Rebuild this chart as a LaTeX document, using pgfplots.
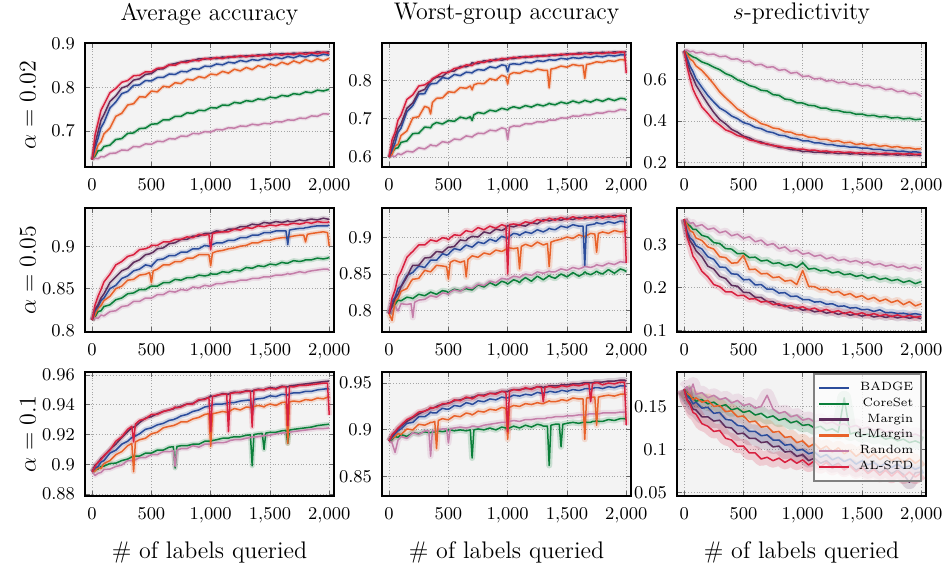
\documentclass[border=0pt]{standalone}
\usepackage{pgfplots}
\usepackage{pgfplotstable}
\pgfplotsset{compat=1.18}

\definecolor{bgc}{HTML}{F3F3F3}
\definecolor{cBadge}{HTML}{2B4C9B}
\definecolor{cCore}{HTML}{0B7F3A}
\definecolor{cMargin}{HTML}{5E2E5C}
\definecolor{cDM}{HTML}{E8622A}
\definecolor{cRand}{HTML}{C47EA9}
\definecolor{cAL}{HTML}{D8203F}

% columns: x badge coreset margin dmargin random alstd
\pgfplotstableread{
x badge coreset margin dmargin random alstd
0    .635 .635 .635 .635 .635 .635
25   .662 .643 .672 .648 .638 .692
50   .683 .655 .698 .668 .637 .720
75   .708 .656 .725 .676 .642 .748
100  .720 .665 .738 .694 .641 .761
150  .753 .668 .768 .707 .649 .788
200  .767 .681 .781 .734 .650 .798
250  .786 .683 .799 .741 .657 .812
300  .791 .695 .804 .760 .656 .816
350  .805 .696 .817 .763 .665 .827
400  .806 .706 .820 .779 .664 .828
450  .816 .707 .830 .778 .671 .836
500  .815 .716 .832 .792 .670 .836
550  .823 .717 .842 .790 .677 .844
600  .823 .726 .843 .803 .676 .845
650  .831 .726 .852 .801 .683 .852
700  .830 .734 .855 .811 .682 .851
750  .837 .734 .858 .809 .689 .858
800  .836 .742 .861 .819 .688 .857
850  .843 .741 .861 .817 .695 .863
900  .842 .748 .866 .825 .694 .861
950  .849 .747 .865 .822 .699 .867
1000 .848 .754 .868 .831 .698 .865
1050 .854 .753 .866 .829 .704 .869
1100 .852 .760 .870 .837 .703 .866
1150 .858 .759 .868 .833 .708 .871
1200 .856 .766 .872 .842 .707 .869
1250 .862 .764 .870 .838 .712 .873
1300 .859 .770 .873 .846 .711 .870
1350 .864 .768 .871 .841 .716 .874
1400 .862 .774 .875 .850 .714 .872
1450 .867 .772 .873 .846 .718 .875
1500 .864 .778 .877 .854 .717 .873
1550 .869 .776 .875 .850 .722 .877
1600 .866 .782 .878 .858 .721 .874
1650 .871 .780 .876 .853 .726 .878
1700 .868 .786 .879 .861 .725 .875
1750 .873 .784 .877 .856 .730 .879
1800 .870 .790 .880 .864 .729 .876
1850 .875 .788 .878 .859 .735 .880
1900 .872 .794 .882 .866 .734 .877
1950 .876 .792 .880 .861 .740 .881
2000 .874 .796 .882 .867 .739 .878
}\tabAA

\pgfplotstableread{
x badge coreset margin dmargin random alstd
0    .600 .600 .600 .600 .600 .600
25   .618 .612 .628 .607 .603 .645
50   .636 .622 .652 .629 .601 .664
75   .664 .624 .675 .633 .609 .696
100  .675 .638 .686 .656 .606 .709
150  .718 .642 .727 .668 .615 .750
200  .734 .661 .741 .702 .613 .762
250  .764 .662 .770 .705 .624 .785
300  .765 .678 .776 .732 .621 .788
335  .785 .677 .792 .728 .628 .795
350  .790 .676 .797 .712 .632 .798
365  .791 .684 .802 .742 .630 .804
400  .792 .690 .808 .753 .629 .810
450  .807 .686 .810 .754 .640 .820
500  .804 .695 .823 .770 .637 .820
550  .815 .693 .824 .768 .647 .831
600  .812 .704 .836 .781 .645 .832
650  .821 .700 .835 .779 .655 .840
685  .820 .705 .840 .785 .653 .839
700  .819 .695 .846 .775 .652 .838
715  .823 .710 .844 .788 .656 .842
750  .828 .716 .843 .792 .662 .848
800  .826 .713 .851 .791 .661 .846
850  .835 .722 .848 .804 .670 .853
900  .832 .719 .855 .800 .668 .851
950  .840 .727 .852 .813 .676 .857
985  .838 .724 .855 .809 .673 .856
1000 .822 .723 .858 .790 .645 .855
1015 .841 .727 .857 .815 .677 .857
1050 .843 .731 .856 .820 .681 .860
1100 .841 .727 .861 .818 .680 .858
1150 .847 .734 .859 .825 .687 .862
1200 .845 .730 .863 .822 .686 .860
1250 .851 .737 .861 .829 .692 .864
1300 .849 .733 .865 .826 .691 .862
1335 .852 .737 .864 .826 .694 .864
1350 .854 .740 .863 .780 .697 .866
1365 .853 .738 .865 .829 .696 .865
1400 .852 .736 .867 .831 .696 .864
1450 .857 .743 .865 .837 .702 .868
1500 .855 .739 .869 .834 .701 .866
1550 .859 .746 .867 .841 .707 .869
1600 .857 .741 .871 .838 .706 .867
1635 .859 .745 .870 .839 .709 .869
1650 .861 .748 .869 .805 .711 .871
1665 .860 .746 .870 .841 .710 .870
1700 .859 .743 .872 .843 .710 .868
1750 .863 .750 .870 .848 .715 .872
1800 .861 .745 .873 .846 .714 .869
1850 .865 .752 .871 .851 .719 .873
1900 .863 .747 .874 .849 .718 .870
1950 .866 .753 .872 .854 .724 .874
1985 .866 .752 .873 .853 .723 .873
2000 .865 .748 .875 .852 .722 .818
}\tabAB

\pgfplotstableread{
x badge coreset margin dmargin random alstd
0    .738 .738 .738 .738 .738 .738
25   .702 .726 .682 .722 .741 .662
50   .663 .717 .638 .698 .733 .602
75   .637 .708 .607 .688 .736 .553
100  .603 .703 .573 .665 .727 .522
150  .562 .684 .527 .643 .731 .468
200  .523 .674 .483 .612 .719 .437
250  .492 .659 .442 .578 .722 .403
300  .463 .647 .408 .540 .709 .382
350  .447 .628 .387 .512 .712 .358
400  .425 .617 .361 .486 .697 .347
450  .412 .598 .347 .458 .699 .331
500  .393 .587 .328 .442 .684 .324
550  .385 .571 .320 .420 .688 .310
600  .370 .563 .305 .407 .669 .305
650  .364 .548 .300 .388 .673 .294
700  .350 .545 .288 .380 .658 .292
750  .345 .527 .285 .367 .661 .282
800  .333 .524 .274 .363 .644 .280
850  .330 .506 .272 .349 .648 .272
900  .319 .502 .263 .347 .630 .272
950  .316 .488 .262 .335 .634 .265
1000 .306 .487 .254 .334 .614 .266
1050 .305 .476 .255 .323 .617 .260
1100 .296 .474 .250 .322 .602 .261
1150 .295 .463 .252 .312 .606 .255
1200 .288 .462 .247 .313 .592 .257
1250 .287 .452 .249 .303 .596 .251
1300 .281 .451 .244 .306 .584 .254
1350 .280 .443 .247 .296 .588 .249
1400 .275 .442 .242 .299 .576 .252
1450 .275 .433 .245 .288 .580 .246
1500 .270 .434 .240 .292 .569 .250
1550 .270 .426 .243 .283 .572 .245
1600 .264 .428 .239 .288 .560 .248
1650 .265 .420 .242 .279 .564 .243
1700 .259 .423 .238 .283 .551 .247
1750 .260 .415 .241 .275 .555 .242
1800 .255 .418 .237 .278 .541 .246
1850 .256 .411 .240 .271 .545 .241
1900 .251 .414 .236 .272 .531 .245
1950 .253 .407 .239 .266 .535 .240
2000 .249 .410 .235 .268 .520 .243
}\tabAC

\pgfplotstableread{
x badge coreset margin dmargin random alstd
0    .813 .813 .813 .813 .813 .813
25   .824 .817 .826 .819 .816 .831
50   .829 .823 .831 .827 .815 .841
75   .836 .824 .839 .830 .819 .849
100  .839 .829 .844 .836 .818 .858
150  .850 .831 .857 .841 .823 .867
200  .854 .837 .864 .850 .824 .878
250  .862 .839 .871 .853 .829 .882
300  .865 .844 .874 .860 .830 .888
350  .871 .845 .881 .861 .835 .890
400  .873 .849 .884 .866 .835 .896
450  .878 .849 .890 .867 .839 .897
485  .877 .852 .891 .869 .839 .899
500  .876 .853 .892 .857 .839 .901
515  .879 .853 .893 .871 .840 .901
550  .884 .853 .897 .873 .843 .901
600  .885 .857 .898 .878 .843 .905
650  .889 .857 .903 .878 .847 .905
700  .889 .861 .904 .882 .846 .908
750  .893 .860 .908 .882 .849 .908
800  .893 .863 .908 .886 .848 .911
850  .897 .863 .912 .886 .852 .910
900  .897 .866 .912 .890 .851 .914
950  .901 .865 .915 .890 .854 .913
985  .900 .866 .915 .890 .853 .914
1000 .901 .868 .915 .877 .853 .896
1015 .902 .867 .916 .892 .854 .915
1050 .904 .867 .918 .894 .856 .916
1100 .904 .870 .917 .895 .856 .917
1150 .907 .869 .920 .897 .858 .917
1200 .907 .872 .920 .898 .858 .920
1250 .910 .871 .923 .900 .860 .919
1300 .910 .875 .923 .901 .860 .922
1350 .913 .874 .926 .904 .862 .921
1400 .913 .877 .925 .904 .862 .924
1450 .916 .876 .928 .907 .864 .923
1500 .916 .879 .927 .907 .864 .925
1550 .918 .878 .929 .909 .866 .924
1600 .918 .881 .928 .910 .866 .926
1635 .918 .880 .929 .910 .867 .925
1650 .902 .880 .930 .911 .868 .925
1665 .919 .881 .929 .911 .867 .926
1700 .920 .883 .929 .912 .868 .927
1750 .921 .882 .931 .913 .870 .926
1785 .921 .883 .930 .913 .869 .927
1800 .922 .884 .930 .905 .869 .928
1815 .922 .884 .931 .914 .870 .928
1850 .923 .884 .932 .915 .871 .927
1900 .924 .886 .931 .916 .872 .929
1950 .924 .885 .933 .917 .873 .928
1985 .924 .886 .932 .916 .873 .928
2000 .925 .887 .932 .900 .872 .929
}\tabBA

\pgfplotstableread{
x badge coreset margin dmargin random alstd
0    .795 .795 .795 .795 .795 .795
25   .812 .801 .806 .786 .801 .817
50   .818 .808 .816 .812 .806 .828
75   .830 .814 .822 .816 .799 .846
100  .833 .813 .832 .826 .809 .853
150  .848 .818 .846 .830 .808 .873
185  .851 .817 .858 .840 .809 .879
200  .852 .816 .862 .843 .790 .881
215  .855 .818 .862 .843 .811 .884
250  .861 .822 .862 .844 .814 .890
300  .859 .820 .872 .855 .815 .890
350  .869 .825 .873 .853 .820 .897
400  .869 .822 .881 .862 .818 .895
450  .878 .827 .880 .861 .824 .900
485  .876 .826 .885 .860 .823 .899
500  .877 .824 .887 .843 .822 .897
515  .880 .826 .887 .866 .825 .900
550  .885 .829 .888 .869 .828 .904
600  .883 .827 .897 .866 .826 .903
635  .888 .829 .896 .868 .830 .908
650  .890 .830 .896 .846 .832 .910
665  .889 .829 .899 .870 .831 .909
700  .887 .828 .902 .875 .830 .908
750  .894 .835 .901 .873 .836 .914
800  .892 .832 .908 .879 .834 .911
850  .898 .838 .906 .877 .840 .916
900  .895 .834 .912 .883 .838 .913
950  .902 .840 .910 .881 .844 .918
985  .900 .838 .913 .884 .843 .916
1000 .899 .836 .917 .887 .842 .850
1015 .902 .838 .916 .886 .844 .918
1050 .906 .842 .915 .885 .847 .919
1085 .905 .840 .917 .886 .846 .918
1100 .903 .838 .918 .857 .845 .917
1115 .905 .841 .917 .888 .847 .919
1150 .908 .845 .916 .891 .850 .922
1200 .906 .840 .921 .888 .848 .920
1250 .911 .847 .919 .894 .853 .925
1300 .908 .842 .925 .890 .851 .923
1335 .911 .846 .924 .892 .853 .925
1350 .913 .848 .923 .860 .854 .927
1365 .912 .846 .924 .894 .853 .926
1400 .911 .844 .926 .896 .853 .924
1450 .916 .850 .924 .898 .857 .928
1500 .914 .846 .927 .901 .855 .925
1550 .918 .852 .925 .899 .859 .929
1600 .916 .847 .928 .904 .857 .926
1635 .916 .850 .927 .902 .859 .927
1650 .862 .853 .926 .902 .861 .929
1665 .917 .851 .927 .903 .860 .928
1700 .918 .849 .929 .906 .859 .927
1735 .919 .852 .928 .905 .861 .928
1750 .921 .854 .927 .880 .863 .930
1765 .920 .852 .928 .906 .862 .929
1800 .919 .850 .930 .908 .861 .927
1850 .922 .856 .928 .906 .865 .930
1900 .920 .851 .931 .910 .863 .928
1950 .923 .857 .929 .908 .867 .931
1985 .922 .855 .930 .909 .866 .930
2000 .921 .853 .931 .911 .866 .865
}\tabBB

\pgfplotstableread{
x badge coreset margin dmargin random alstd
0    .360 .356 .360 .360 .360 .360
25   .331 .349 .326 .347 .357 .318
50   .316 .344 .309 .333 .350 .297
75   .310 .336 .300 .329 .352 .273
100  .298 .336 .286 .316 .343 .263
150  .290 .322 .272 .310 .347 .238
200  .272 .318 .250 .295 .336 .225
250  .266 .305 .243 .290 .339 .207
300  .248 .303 .226 .272 .328 .202
350  .247 .291 .221 .270 .332 .190
400  .232 .290 .205 .257 .321 .190
450  .231 .279 .203 .258 .325 .181
500  .218 .280 .189 .275 .315 .182
550  .219 .270 .188 .242 .319 .173
600  .206 .271 .177 .243 .307 .174
650  .207 .262 .177 .232 .311 .166
700  .196 .264 .167 .233 .299 .168
750  .196 .256 .167 .223 .303 .160
800  .187 .258 .158 .225 .291 .162
850  .188 .251 .159 .215 .295 .155
900  .179 .254 .151 .217 .284 .158
950  .180 .247 .154 .207 .288 .152
1000 .172 .258 .147 .240 .278 .155
1050 .172 .243 .149 .203 .281 .148
1100 .166 .245 .143 .202 .273 .152
1150 .167 .239 .146 .195 .276 .145
1200 .161 .241 .140 .196 .267 .149
1250 .162 .234 .143 .188 .271 .142
1300 .156 .237 .137 .191 .263 .146
1350 .157 .230 .141 .182 .266 .139
1400 .152 .232 .135 .186 .260 .143
1450 .153 .226 .138 .177 .263 .137
1500 .148 .229 .133 .181 .257 .141
1550 .149 .222 .137 .172 .260 .135
1600 .144 .226 .131 .177 .253 .139
1650 .148 .219 .134 .168 .256 .134
1700 .141 .222 .130 .173 .250 .137
1750 .142 .216 .133 .165 .253 .132
1800 .139 .219 .129 .170 .247 .136
1850 .140 .212 .132 .160 .250 .131
1900 .137 .216 .128 .167 .244 .135
1950 .139 .209 .131 .157 .248 .130
2000 .136 .214 .127 .162 .243 .133
}\tabBC

\pgfplotstableread{
x badge coreset margin dmargin random alstd
0    .8950 .8950 .8950 .8950 .8950 .8950
25   .8975 .8962 .8995 .8955 .8925 .8985
50   .8985 .8968 .9010 .8978 .8940 .9015
75   .9015 .8985 .9040 .8972 .8945 .9030
100  .9025 .8988 .9055 .9005 .8965 .9060
150  .9075 .9005 .9100 .9025 .8968 .9095
200  .9095 .9008 .9135 .9065 .8985 .9155
250  .9135 .9025 .9180 .9085 .8995 .9185
300  .9155 .9035 .9220 .9125 .9025 .9235
335  .9180 .9050 .9245 .9140 .9025 .9255
350  .9185 .9055 .9250 .8950 .9025 .9150
365  .9190 .9055 .9255 .9150 .9030 .9270
400  .9205 .9055 .9280 .9165 .9045 .9295
450  .9235 .9075 .9310 .9175 .9045 .9305
500  .9245 .9075 .9320 .9205 .9065 .9335
550  .9265 .9095 .9340 .9215 .9065 .9335
600  .9275 .9095 .9355 .9245 .9085 .9355
650  .9295 .9115 .9365 .9255 .9085 .9365
685  .9300 .9118 .9372 .9260 .9090 .9375
700  .9305 .8975 .9380 .9265 .8985 .9385
715  .9310 .9120 .9382 .9270 .9095 .9380
750  .9325 .9125 .9390 .9285 .9105 .9385
800  .9335 .9125 .9405 .9285 .9105 .9405
850  .9355 .9135 .9410 .9305 .9125 .9405
900  .9365 .9135 .9430 .9315 .9115 .9435
950  .9385 .9155 .9440 .9335 .9135 .9435
985  .9390 .9155 .9450 .9340 .9135 .9450
1000 .9395 .9155 .9460 .9120 .9135 .9220
1015 .9400 .9160 .9455 .9340 .9140 .9455
1050 .9405 .9165 .9460 .9345 .9145 .9465
1100 .9405 .9175 .9475 .9355 .9145 .9470
1135 .9410 .9175 .9472 .9350 .9150 .9472
1150 .9415 .9175 .9470 .9345 .9155 .9220
1165 .9415 .9180 .9478 .9360 .9160 .9476
1200 .9415 .9185 .9485 .9375 .9165 .9480
1250 .9425 .9185 .9480 .9365 .9165 .9485
1300 .9430 .9195 .9495 .9385 .9175 .9490
1335 .9432 .9198 .9492 .9382 .9180 .9492
1350 .9350 .8990 .9490 .9375 .9185 .9250
1365 .9436 .9200 .9498 .9388 .9183 .9496
1400 .9440 .9205 .9505 .9395 .9185 .9500
1435 .9443 .9208 .9502 .9390 .9190 .9500
1450 .9445 .9100 .9500 .9385 .9195 .9500
1465 .9450 .9210 .9508 .9395 .9192 .9505
1500 .9460 .9215 .9515 .9405 .9195 .9510
1550 .9455 .9215 .9510 .9395 .9205 .9505
1600 .9470 .9225 .9525 .9415 .9210 .9520
1635 .9468 .9228 .9522 .9418 .9212 .9520
1650 .9465 .9140 .9520 .9140 .9215 .9260
1665 .9474 .9230 .9526 .9420 .9216 .9522
1700 .9480 .9235 .9530 .9425 .9220 .9520
1750 .9480 .9240 .9535 .9420 .9225 .9530
1800 .9490 .9245 .9540 .9435 .9230 .9530
1850 .9490 .9250 .9545 .9430 .9235 .9535
1900 .9500 .9260 .9550 .9445 .9240 .9540
1950 .9505 .9265 .9555 .9440 .9240 .9545
1985 .9508 .9268 .9558 .9450 .9243 .9545
2000 .9510 .9270 .9560 .9460 .9245 .9330
}\tabCA

\pgfplotstableread{
x badge coreset margin dmargin random alstd
0    .888 .888 .888 .888 .888 .888
25   .892 .890 .894 .891 .886 .895
50   .896 .893 .897 .893 .876 .898
75   .899 .892 .901 .896 .889 .902
100  .901 .895 .904 .895 .893 .905
150  .907 .893 .909 .901 .891 .911
200  .908 .897 .913 .900 .897 .914
250  .914 .896 .917 .906 .895 .919
300  .914 .898 .920 .905 .899 .920
335  .917 .897 .922 .907 .899 .922
350  .919 .897 .923 .908 .872 .924
365  .918 .898 .923 .908 .899 .923
385  .918 .898 .924 .909 .899 .924
400  .918 .899 .925 .880 .899 .924
415  .920 .899 .926 .910 .900 .925
450  .923 .898 .927 .912 .901 .928
485  .922 .899 .928 .911 .901 .928
500  .922 .900 .929 .911 .886 .928
515  .923 .900 .929 .912 .901 .929
550  .926 .899 .931 .915 .902 .932
600  .925 .900 .932 .914 .903 .931
650  .929 .899 .934 .918 .902 .935
685  .928 .900 .934 .917 .903 .934
700  .927 .870 .935 .916 .904 .933
715  .928 .900 .935 .917 .904 .934
750  .931 .901 .937 .920 .903 .937
800  .930 .900 .937 .919 .905 .936
850  .933 .902 .939 .922 .906 .939
900  .932 .900 .939 .921 .907 .938
950  .935 .903 .941 .924 .908 .941
985  .934 .902 .941 .923 .908 .940
1000 .934 .901 .941 .890 .908 .898
1015 .935 .902 .942 .924 .909 .941
1050 .937 .904 .943 .926 .910 .943
1100 .936 .902 .943 .925 .909 .942
1150 .938 .905 .944 .928 .911 .945
1200 .937 .903 .944 .927 .911 .943
1250 .940 .906 .946 .929 .912 .946
1285 .939 .905 .946 .928 .912 .945
1300 .939 .904 .945 .928 .912 .930
1315 .940 .904 .946 .929 .912 .945
1335 .940 .904 .946 .930 .913 .946
1350 .941 .862 .947 .931 .913 .946
1365 .941 .905 .947 .930 .913 .946
1400 .940 .906 .947 .930 .914 .945
1435 .941 .906 .947 .931 .914 .946
1450 .942 .882 .948 .932 .914 .947
1465 .942 .906 .948 .932 .914 .947
1500 .941 .907 .948 .931 .915 .946
1550 .943 .908 .949 .934 .915 .948
1600 .942 .907 .949 .933 .916 .947
1635 .943 .908 .950 .933 .916 .948
1650 .944 .909 .950 .890 .916 .949
1665 .944 .908 .950 .934 .916 .949
1685 .944 .908 .950 .934 .917 .949
1700 .943 .908 .950 .935 .917 .930
1715 .944 .909 .950 .935 .917 .949
1735 .945 .909 .951 .935 .917 .950
1750 .945 .910 .951 .905 .917 .950
1765 .945 .909 .951 .935 .917 .950
1800 .944 .909 .951 .936 .918 .948
1850 .946 .911 .952 .937 .918 .950
1900 .945 .910 .952 .936 .918 .949
1950 .947 .912 .953 .938 .919 .951
1985 .947 .912 .953 .938 .919 .951
2000 .946 .911 .952 .937 .919 .905
}\tabCB

\pgfplotstableread{
x badge coreset margin dmargin random alstd
0    .170 .170 .170 .170 .170 .170
25   .162 .166 .158 .165 .173 .157
50   .159 .159 .154 .163 .167 .152
75   .153 .160 .147 .158 .176 .143
100  .155 .156 .146 .160 .164 .141
150  .148 .158 .138 .155 .166 .130
200  .149 .153 .138 .157 .160 .127
250  .142 .155 .133 .150 .163 .121
300  .143 .150 .134 .151 .158 .122
350  .135 .152 .126 .144 .160 .113
400  .134 .146 .125 .145 .154 .111
450  .128 .148 .118 .138 .157 .104
500  .127 .143 .119 .139 .151 .104
550  .121 .145 .113 .132 .153 .096
600  .121 .140 .113 .133 .148 .096
650  .116 .142 .108 .126 .150 .089
700  .117 .137 .109 .127 .163 .091
750  .111 .139 .103 .120 .147 .087
800  .111 .134 .104 .121 .142 .090
850  .105 .136 .097 .114 .144 .085
900  .106 .131 .098 .115 .138 .089
950  .099 .133 .092 .108 .140 .084
1000 .100 .128 .094 .110 .134 .088
1050 .095 .129 .087 .103 .136 .082
1100 .097 .125 .090 .107 .132 .087
1150 .091 .127 .084 .100 .134 .080
1200 .094 .122 .087 .104 .130 .085
1250 .088 .124 .081 .097 .132 .078
1300 .091 .120 .084 .102 .128 .083
1350 .086 .160 .078 .095 .130 .076
1400 .089 .118 .082 .099 .126 .081
1450 .083 .120 .076 .092 .128 .074
1500 .087 .116 .080 .097 .124 .079
1550 .082 .118 .074 .090 .126 .072
1600 .085 .114 .078 .095 .122 .077
1650 .080 .116 .073 .088 .124 .070
1700 .084 .112 .077 .093 .120 .076
1750 .079 .114 .072 .087 .122 .069
1800 .083 .110 .076 .091 .118 .075
1850 .078 .112 .071 .085 .120 .068
1900 .081 .108 .062 .090 .116 .074
1950 .077 .110 .073 .084 .118 .068
2000 .080 .107 .074 .089 .115 .073
}\tabCC

\pgfplotsset{
  panel/.style={
    scale only axis, width=124.5pt, height=62pt,
    xmin=-60, xmax=2040, xtick={0,500,1000,1500,2000},
    axis background/.style={fill=bgc},
    axis line style={line width=1.4pt},
    grid=major, major grid style={densely dotted, black!35, line width=0.4pt},
    major tick length=2.5pt, tick style={black!60, line width=0.4pt},
    tick label style={font=\small},
    xticklabel style={yshift=-2.5pt},
    yticklabel style={/pgf/number format/fixed, /pgf/number format/precision=2, xshift=-1.5pt},
    scaled y ticks=false,
    title style={at={(axis description cs:0.5,1.137)}, anchor=center, font=\large},
    xlabel style={at={(axis description cs:0.5,-0.452)}, anchor=center, font=\large},
    ylabel style={at={(axis description cs:-0.229,0.5)}, anchor=center, font=\large},
  },
  band/.style={forget plot, no markers, line width=#1, opacity=0.18, line join=round},
  ln/.style={forget plot, no markers, line width=0.75pt, line join=round},
}

% draws the six methods of one panel: #1 table, #2 width of the shaded band
\newcommand{\drawpanel}[2]{%
  \addplot[band=#2, cCore]   table[x=x, y=coreset]{#1};
  \addplot[band=#2, cRand]   table[x=x, y=random]{#1};
  \addplot[band=#2, cDM]     table[x=x, y=dmargin]{#1};
  \addplot[band=#2, cBadge]  table[x=x, y=badge]{#1};
  \addplot[band=#2, cMargin] table[x=x, y=margin]{#1};
  \addplot[band=#2, cAL]     table[x=x, y=alstd]{#1};
  \addplot[ln, cCore]   table[x=x, y=coreset]{#1};
  \addplot[ln, cRand]   table[x=x, y=random]{#1};
  \addplot[ln, cDM]     table[x=x, y=dmargin]{#1};
  \addplot[ln, cBadge]  table[x=x, y=badge]{#1};
  \addplot[ln, cMargin] table[x=x, y=margin]{#1};
  \addplot[ln, cAL]     table[x=x, y=alstd]{#1};
}

\begin{document}
\begin{tikzpicture}
\useasboundingbox (0,0) rectangle (473.5pt,-286pt);

% row 1: alpha = 0.02
\begin{axis}[panel, at={(42.5pt,-21.5pt)}, anchor=north west,
  title={Average accuracy}, ylabel={$\alpha = 0.02$},
  ymin=0.618, ymax=0.902, ytick={0.7,0.8,0.9}]
\drawpanel{\tabAA}{2pt}
\end{axis}
\begin{axis}[panel, at={(191pt,-21.5pt)}, anchor=north west,
  title={Worst-group accuracy},
  ymin=0.574, ymax=0.897, ytick={0.6,0.7,0.8}]
\drawpanel{\tabAB}{2pt}
\end{axis}
\begin{axis}[panel, at={(338.5pt,-21.5pt)}, anchor=north west,
  title={$s$-predictivity},
  ymin=0.18, ymax=0.775, ytick={0.2,0.4,0.6}]
\drawpanel{\tabAC}{2.5pt}
\end{axis}

% row 2: alpha = 0.05
\begin{axis}[panel, at={(42.5pt,-104pt)}, anchor=north west,
  ylabel={$\alpha = 0.05$},
  ymin=0.799, ymax=0.945, ytick={0.8,0.85,0.9}]
\drawpanel{\tabBA}{2.5pt}
\end{axis}
\begin{axis}[panel, at={(191pt,-104pt)}, anchor=north west,
  ymin=0.770, ymax=0.941, ytick={0.8,0.85,0.9}]
\drawpanel{\tabBB}{3pt}
\end{axis}
\begin{axis}[panel, at={(338.5pt,-104pt)}, anchor=north west,
  ymin=0.096, ymax=0.386, ytick={0.1,0.2,0.3}]
\drawpanel{\tabBC}{3.5pt}
\end{axis}

% row 3: alpha = 0.1
\begin{axis}[panel, at={(42.5pt,-186pt)}, anchor=north west,
  ylabel={$\alpha = 0.1$}, xlabel={\# of labels queried},
  ymin=0.8787, ymax=0.962, ytick={0.88,0.9,0.92,0.94,0.96}]
\drawpanel{\tabCA}{2.5pt}
\end{axis}
\begin{axis}[panel, at={(191pt,-186pt)}, anchor=north west,
  xlabel={\# of labels queried},
  ymin=0.8295, ymax=0.9617, ytick={0.85,0.9,0.95}]
\drawpanel{\tabCB}{3pt}
\end{axis}
\begin{axis}[panel, at={(338.5pt,-186pt)}, anchor=north west,
  xlabel={\# of labels queried},
  ymin=0.046, ymax=0.19, ytick={0.05,0.1,0.15},
  legend cell align={right},
  legend image code/.code={\draw[#1, line width=1.2pt] (0pt,0pt) -- (15pt,0pt);},
  legend style={at={(0.985,0.99)}, anchor=north east,
    font=\fontsize{6}{7}\selectfont, fill=white, fill opacity=0.75,
    text opacity=1, draw=gray, line width=1pt, inner sep=2pt,
    row sep=-1.8pt}]
\addlegendimage{cBadge}
\addlegendimage{cCore}
\addlegendimage{cMargin}
\addlegendimage{cDM}
\addlegendimage{cRand}
\addlegendimage{cAL}
\drawpanel{\tabCC}{7pt}
\legend{BADGE, CoreSet, Margin, d-Margin, Random, AL-STD}
\end{axis}
\end{tikzpicture}
\end{document}
